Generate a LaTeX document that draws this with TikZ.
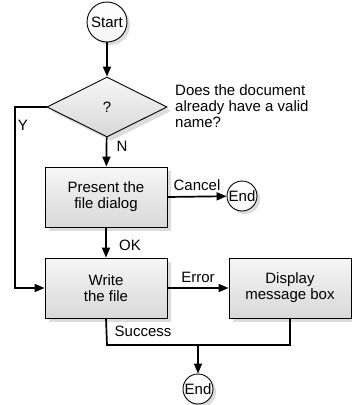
\documentclass[tikz,border=0pt]{standalone}
\usepackage{fontspec}
\setmainfont{Liberation Sans}
\usetikzlibrary{shapes.geometric,arrows.meta,shadows}
\definecolor{boxtop}{HTML}{F6F6F6}
\definecolor{boxbot}{HTML}{D8D8D8}
\definecolor{shade}{HTML}{DCDCDC}
\tikzset{
  txt/.style={font=\fontsize{15}{16}\selectfont},
  base/.style={draw=black, line width=0.9pt, txt,
    top color=boxtop, bottom color=boxbot,
    drop shadow={shadow xshift=4pt, shadow yshift=-4pt, fill=shade, opacity=1}},
  procbox/.style={base, rectangle, minimum width=122pt, minimum height=60pt, align=center, inner sep=0pt},
  term/.style={draw=black, line width=0.9pt, circle, inner sep=0pt, top color=white, bottom color=boxtop,
    txt,
    drop shadow={shadow xshift=3pt, shadow yshift=-3pt, fill=shade, opacity=1}},
  decide/.style={base, diamond, aspect=2, minimum width=120pt, minimum height=60pt, inner sep=0pt},
  conn/.style={line width=1.7pt, -{Triangle[length=10pt,width=8pt]}},
  plain/.style={line width=1.7pt},
  lbl/.style={txt, inner sep=0pt},
}
\begin{document}
\begin{tikzpicture}[x=1pt,y=-1pt]
\useasboundingbox (0,0) rectangle (352,405);
\node[term, minimum size=40pt] (start) at (107,22) {Start};
\node[decide] (q) at (107,107) {?};
\node[procbox] (present) at (106,197) {Present the\\file dialog};
\node[procbox] (write) at (106,288) {Write\\the file};
\node[procbox] (display) at (290,288) {Display\\message box};
\node[term, minimum size=30pt] (end1) at (242,196) {End};
\node[term, minimum size=30pt] (end2) at (198,389) {End};
\node[lbl, align=left, anchor=west] (qtext) at (175,106) {Does the document\\already have a valid\\name?};
\coordinate (yl) at (15,107);
\coordinate (yb) at (15,288);
\coordinate (sw) at (107,345);
\coordinate (se) at (290,345);
\coordinate (sm) at (198,345);
\draw[conn] (start) -- (q);
\draw[conn] (q) -- (present);
\node[lbl] (nlab) at (122,146) {N};
\draw[conn] (present) -- (write);
\node[lbl] (oklab) at (130,245) {OK};
\draw[conn] (present.east) -- node[lbl, above=5pt, pos=0.5] (cancellab) {Cancel} (end1);
\draw[conn] (write) -- node[lbl, above=5pt] (errlab) {Error} (display);
\draw[conn] (q.west) -- (yl) -- (yb) -- (write.west);
\node[lbl] (ylab) at (23,125) {Y};
\draw[plain] (write.south) -- (sw) -- (se) -- (display.south);
\node[lbl] (succlab) at (143,331) {Success};
\draw[conn] (sm) -- (end2);
\end{tikzpicture}
\end{document}
